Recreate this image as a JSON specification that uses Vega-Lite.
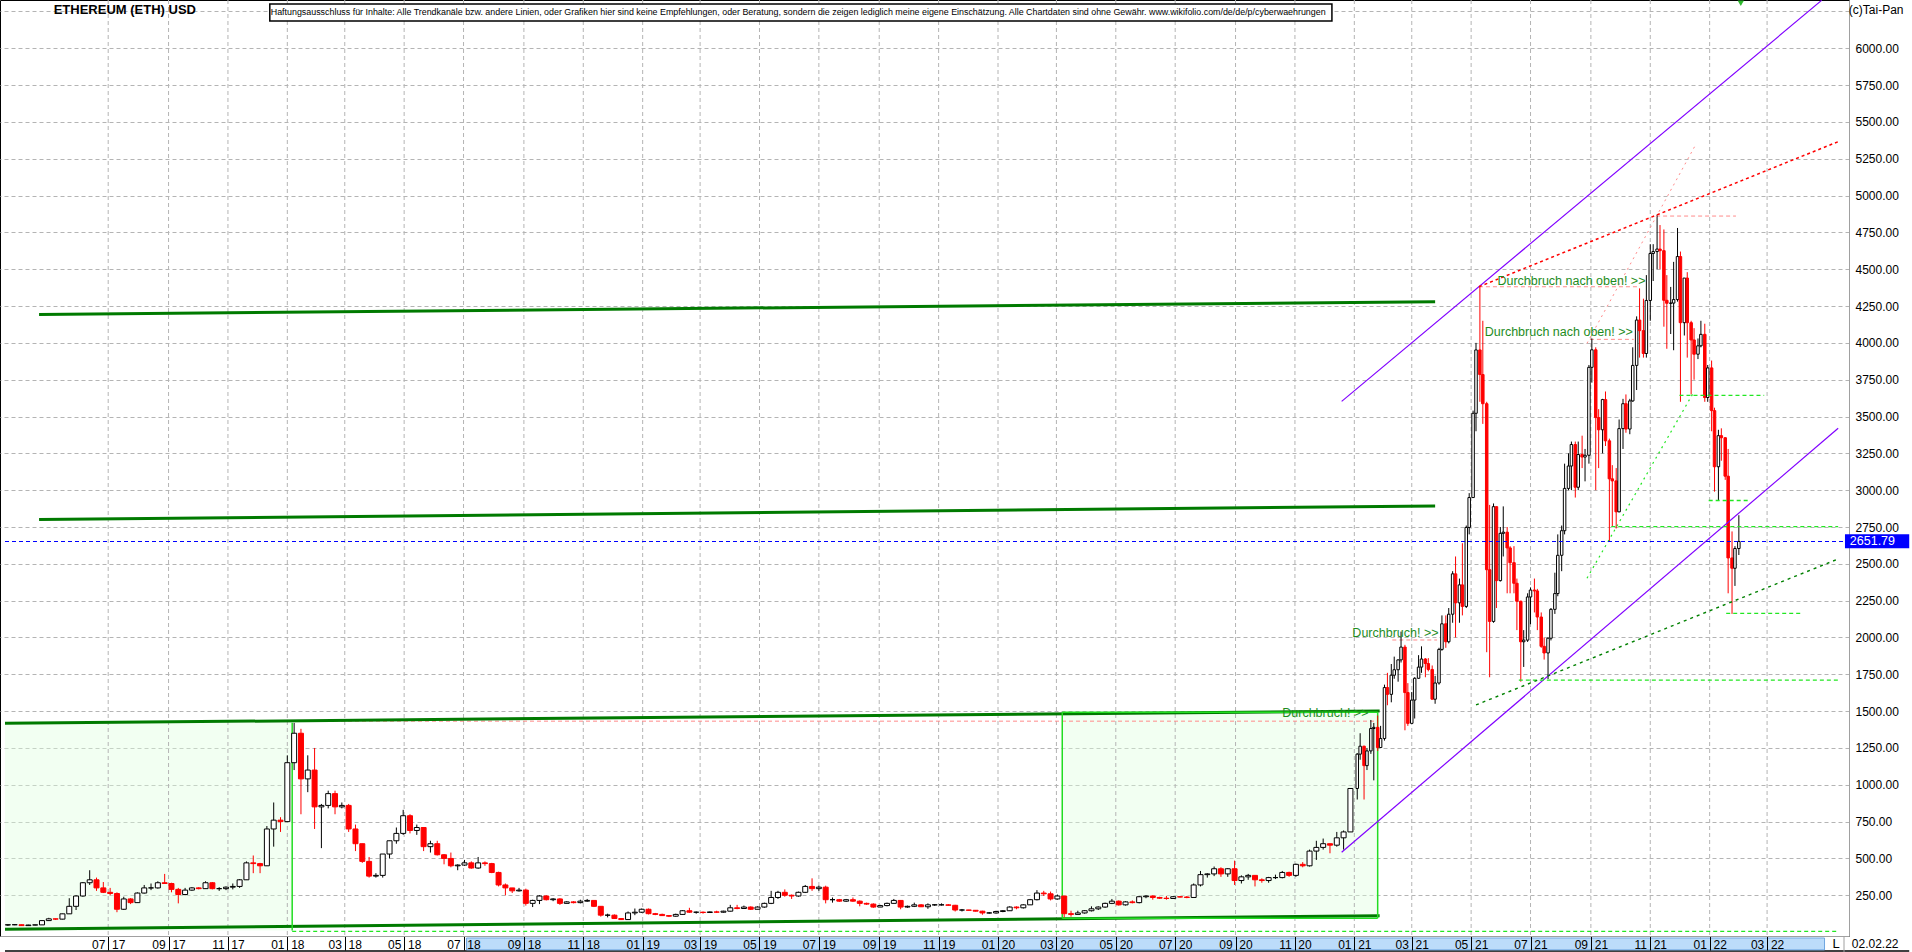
{
"$schema":"https://vega.github.io/schema/vega-lite/v6.json",
"width":1849,"height":936,
"autosize":{"type":"none"},
"padding":{"left":0,"top":0,"right":63,"bottom":16},
"background":"#ffffff",
"config":{"view":{"stroke":"#000000","strokeWidth":1},"font":"Liberation Sans"},
"resolve":{"axis":{"x":"independent","y":"independent"}},
"datasets":{
"boxes":[{"d":"2017-03-17","d2":"2018-01-06","v":11,"v2":1420},{"d":"2020-03-07","d2":"2021-01-25","v":94,"v2":1492}],
"months":[{"d":"2017-07-01"},{"d":"2017-09-01"},{"d":"2017-11-01"},{"d":"2018-01-01"},{"d":"2018-03-01"},{"d":"2018-05-01"},{"d":"2018-07-01"},{"d":"2018-09-01"},{"d":"2018-11-01"},{"d":"2019-01-01"},{"d":"2019-03-01"},{"d":"2019-05-01"},{"d":"2019-07-01"},{"d":"2019-09-01"},{"d":"2019-11-01"},{"d":"2020-01-01"},{"d":"2020-03-01"},{"d":"2020-05-01"},{"d":"2020-07-01"},{"d":"2020-09-01"},{"d":"2020-11-01"},{"d":"2021-01-01"},{"d":"2021-03-01"},{"d":"2021-05-01"},{"d":"2021-07-01"},{"d":"2021-09-01"},{"d":"2021-11-01"},{"d":"2022-01-01"},{"d":"2022-03-01"}],
"seg":[
{"g":"pk","d":"2021-05-09","d2":"2021-10-21","v":4381,"v2":4381},
{"g":"pk","d":"2021-08-31","d2":"2021-10-15","v":4024,"v2":4024},
{"g":"pk","d":"2021-11-07","d2":"2022-01-28","v":4861,"v2":4861},
{"g":"pk","d":"2021-02-09","d2":"2021-03-27","v":1983,"v2":1983},
{"g":"pk","d":"2018-01-13","d2":"2021-01-25","v":1432,"v2":1432},
{"g":"dg","d":"2017-04-21","d2":"2021-03-25","v":4192,"v2":4280},
{"g":"dg","d":"2017-04-21","d2":"2021-03-25","v":2801,"v2":2893},
{"g":"dg","d":"2017-03-17","d2":"2021-01-27","v":1417,"v2":1501},
{"g":"dg","d":"2017-03-17","d2":"2021-01-27","v":19,"v2":111},
{"g":"lg","d":"2018-01-06","d2":"2018-01-06","v":11,"v2":1422},
{"g":"lg","d":"2020-03-07","d2":"2020-03-07","v":94,"v2":1492},
{"g":"lg","d":"2021-01-25","d2":"2021-01-25","v":94,"v2":1492},
{"g":"lg","d":"2020-03-07","d2":"2021-01-25","v":1492,"v2":1492},
{"g":"lg","d":"2020-03-07","d2":"2021-01-25","v":94,"v2":94},
{"g":"pu","d":"2020-12-19","d2":"2022-04-26","v":3603,"v2":6325},
{"g":"pu","d":"2020-12-19","d2":"2022-05-13","v":542,"v2":3420},
{"g":"re","d":"2021-05-09","d2":"2022-05-13","v":4381,"v2":5366},
{"g":"ps","d":"2021-08-28","d2":"2021-12-18","v":3997,"v2":5350},
{"g":"gd","d":"2021-06-19","d2":"2022-05-13","v":1711,"v2":1711},
{"g":"gd","d":"2021-09-22","d2":"2022-05-13","v":2752,"v2":2752},
{"g":"gd","d":"2021-12-01","d2":"2022-02-26","v":3644,"v2":3644},
{"g":"gd","d":"2021-12-31","d2":"2022-02-10","v":2930,"v2":2930},
{"g":"gd","d":"2022-01-18","d2":"2022-04-07","v":2164,"v2":2164},
{"g":"gd","d":"2018-01-06","d2":"2022-05-13","v":5,"v2":5},
{"g":"gt","d":"2021-08-28","d2":"2021-12-15","v":2402,"v2":3658},
{"g":"dd","d":"2021-05-06","d2":"2022-05-13","v":1542,"v2":2533},
{"g":"bl","d":"2017-03-17","d2":"2022-05-19","v":2651.79,"v2":2651.79},
{"g":"bk","d":"2017-03-17","d2":"2022-07-25","v":-128,"v2":-128},
{"g":"gy","d":"2022-05-19","d2":"2022-05-19","v":-26.5,"v2":-135}
],
"boxes2":[
{"k":"db","d":"2017-12-14","d2":"2020-12-09","v":6300,"v2":6185},
{"k":"pb","d":"2022-05-20","d2":"2022-07-25","v":2606,"v2":2701},
{"k":"sb","d":"2018-07-04","d2":"2022-04-29","v":-40,"v2":-121}
],
"txt":[
{"k":"an","t":"Durchbruch nach oben! >>","d":"2021-05-28","v":4422},
{"k":"an","t":"Durchbruch nach oben! >>","d":"2021-05-15","v":4074},
{"k":"an","t":"Durchbruch! >>","d":"2020-12-30","v":2028},
{"k":"an","t":"Durchbruch! >>","d":"2020-10-19","v":1487},
{"k":"ti","t":"ETHEREUM (ETH) USD","d":"2017-05-06","v":6260},
{"k":"di","t":"Haftungsausschluss für Inhalte: Alle Trendkanäle bzw. andere Linien, oder Grafiken hier sind keine Empfehlungen, oder Beratung, sondern die zeigen lediglich meine eigene Einschätzung. Alle Chartdaten sind ohne Gewähr.  www.wikifolio.com/de/de/p/cyberwaehrungen","d":"2017-12-15","v":6243},
{"k":"sm","t":"(c)Tai-Pan","d":"2022-05-24","v":6260},
{"k":"sm","t":"02.02.22","d":"2022-05-27","v":-81},
{"k":"lc","t":"L","d":"2022-05-11","v":-81},
{"k":"pw","t":"2651.79","d":"2022-05-25","v":2652}
],
"tri":[{"d":"2022-02-02","v":6305}],
"eth":[
{"d":"2017-03-20","o":48,"h":53,"l":42,"c":50},
{"d":"2017-03-27","o":50,"h":53,"l":47,"c":50},
{"d":"2017-04-03","o":50,"h":51,"l":42,"c":44},
{"d":"2017-04-10","o":44,"h":50,"l":43,"c":48},
{"d":"2017-04-17","o":48,"h":50,"l":46,"c":49},
{"d":"2017-04-24","o":49,"h":80,"l":49,"c":78},
{"d":"2017-05-01","o":78,"h":97,"l":76,"c":90},
{"d":"2017-05-08","o":90,"h":92,"l":82,"c":88},
{"d":"2017-05-15","o":88,"h":125,"l":86,"c":124},
{"d":"2017-05-22","o":124,"h":230,"l":124,"c":175},
{"d":"2017-05-29","o":175,"h":250,"l":150,"c":245},
{"d":"2017-06-05","o":245,"h":340,"l":240,"c":335},
{"d":"2017-06-12","o":335,"h":420,"l":320,"c":355},
{"d":"2017-06-19","o":355,"h":370,"l":280,"c":300},
{"d":"2017-06-26","o":300,"h":340,"l":265,"c":270},
{"d":"2017-07-03","o":270,"h":300,"l":250,"c":262},
{"d":"2017-07-10","o":262,"h":270,"l":135,"c":155},
{"d":"2017-07-17","o":155,"h":240,"l":150,"c":225},
{"d":"2017-07-24","o":225,"h":230,"l":190,"c":200},
{"d":"2017-07-31","o":200,"h":270,"l":200,"c":265},
{"d":"2017-08-07","o":265,"h":320,"l":262,"c":300},
{"d":"2017-08-14","o":300,"h":330,"l":285,"c":300},
{"d":"2017-08-21","o":300,"h":345,"l":295,"c":335},
{"d":"2017-08-28","o":335,"h":395,"l":330,"c":330},
{"d":"2017-09-04","o":330,"h":335,"l":270,"c":290},
{"d":"2017-09-11","o":290,"h":300,"l":195,"c":255},
{"d":"2017-09-18","o":255,"h":300,"l":250,"c":285},
{"d":"2017-09-25","o":285,"h":305,"l":280,"c":300},
{"d":"2017-10-02","o":300,"h":305,"l":290,"c":295},
{"d":"2017-10-09","o":295,"h":345,"l":295,"c":335},
{"d":"2017-10-16","o":335,"h":340,"l":290,"c":295},
{"d":"2017-10-23","o":295,"h":305,"l":280,"c":295},
{"d":"2017-10-30","o":295,"h":310,"l":285,"c":305},
{"d":"2017-11-06","o":305,"h":330,"l":290,"c":310},
{"d":"2017-11-13","o":310,"h":360,"l":300,"c":355},
{"d":"2017-11-20","o":355,"h":480,"l":355,"c":470},
{"d":"2017-11-27","o":470,"h":520,"l":400,"c":465},
{"d":"2017-12-04","o":465,"h":470,"l":400,"c":450},
{"d":"2017-12-11","o":450,"h":720,"l":450,"c":700},
{"d":"2017-12-18","o":700,"h":880,"l":580,"c":760},
{"d":"2017-12-25","o":760,"h":780,"l":680,"c":750},
{"d":"2018-01-01","o":750,"h":1200,"l":750,"c":1150},
{"d":"2018-01-08","o":1150,"h":1420,"l":1100,"c":1350},
{"d":"2018-01-15","o":1350,"h":1380,"l":800,"c":1040},
{"d":"2018-01-22","o":1040,"h":1200,"l":950,"c":1100},
{"d":"2018-01-29","o":1100,"h":1250,"l":700,"c":850},
{"d":"2018-02-05","o":850,"h":870,"l":570,"c":860},
{"d":"2018-02-12","o":860,"h":960,"l":840,"c":940},
{"d":"2018-02-19","o":940,"h":960,"l":800,"c":850},
{"d":"2018-02-26","o":850,"h":880,"l":840,"c":860},
{"d":"2018-03-05","o":860,"h":870,"l":680,"c":700},
{"d":"2018-03-12","o":700,"h":730,"l":550,"c":600},
{"d":"2018-03-19","o":600,"h":600,"l":470,"c":480},
{"d":"2018-03-26","o":480,"h":510,"l":370,"c":380},
{"d":"2018-04-02","o":380,"h":400,"l":370,"c":385},
{"d":"2018-04-09","o":385,"h":530,"l":370,"c":530},
{"d":"2018-04-16","o":530,"h":620,"l":500,"c":620},
{"d":"2018-04-23","o":620,"h":710,"l":600,"c":670},
{"d":"2018-04-30","o":670,"h":830,"l":660,"c":790},
{"d":"2018-05-07","o":790,"h":800,"l":670,"c":690},
{"d":"2018-05-14","o":690,"h":730,"l":660,"c":710},
{"d":"2018-05-21","o":710,"h":710,"l":550,"c":580},
{"d":"2018-05-28","o":580,"h":620,"l":540,"c":600},
{"d":"2018-06-04","o":600,"h":620,"l":520,"c":525},
{"d":"2018-06-11","o":525,"h":530,"l":460,"c":500},
{"d":"2018-06-18","o":500,"h":540,"l":440,"c":450},
{"d":"2018-06-25","o":450,"h":460,"l":420,"c":455},
{"d":"2018-07-02","o":455,"h":490,"l":450,"c":470},
{"d":"2018-07-09","o":470,"h":480,"l":430,"c":435},
{"d":"2018-07-16","o":435,"h":510,"l":430,"c":470},
{"d":"2018-07-23","o":470,"h":480,"l":450,"c":465},
{"d":"2018-07-30","o":465,"h":470,"l":400,"c":405},
{"d":"2018-08-06","o":405,"h":410,"l":310,"c":320},
{"d":"2018-08-13","o":320,"h":330,"l":250,"c":300},
{"d":"2018-08-20","o":300,"h":300,"l":265,"c":280},
{"d":"2018-08-27","o":280,"h":300,"l":275,"c":285},
{"d":"2018-09-03","o":285,"h":295,"l":180,"c":195},
{"d":"2018-09-10","o":195,"h":220,"l":170,"c":215},
{"d":"2018-09-17","o":215,"h":250,"l":190,"c":245},
{"d":"2018-09-24","o":245,"h":250,"l":215,"c":220},
{"d":"2018-10-01","o":220,"h":230,"l":210,"c":225},
{"d":"2018-10-08","o":225,"h":230,"l":185,"c":195},
{"d":"2018-10-15","o":195,"h":210,"l":195,"c":205},
{"d":"2018-10-22","o":205,"h":210,"l":195,"c":200},
{"d":"2018-10-29","o":200,"h":220,"l":195,"c":210},
{"d":"2018-11-05","o":210,"h":225,"l":205,"c":215},
{"d":"2018-11-12","o":215,"h":215,"l":170,"c":175},
{"d":"2018-11-19","o":175,"h":175,"l":105,"c":115},
{"d":"2018-11-26","o":115,"h":125,"l":100,"c":115},
{"d":"2018-12-03","o":115,"h":120,"l":90,"c":92},
{"d":"2018-12-10","o":92,"h":95,"l":82,"c":85},
{"d":"2018-12-17","o":85,"h":140,"l":85,"c":130},
{"d":"2018-12-24","o":130,"h":160,"l":115,"c":135},
{"d":"2018-12-31","o":135,"h":160,"l":130,"c":155},
{"d":"2019-01-07","o":155,"h":160,"l":120,"c":125},
{"d":"2019-01-14","o":125,"h":130,"l":115,"c":120},
{"d":"2019-01-21","o":120,"h":125,"l":110,"c":112},
{"d":"2019-01-28","o":112,"h":115,"l":102,"c":108},
{"d":"2019-02-04","o":108,"h":125,"l":105,"c":120},
{"d":"2019-02-11","o":120,"h":150,"l":118,"c":145},
{"d":"2019-02-18","o":145,"h":165,"l":130,"c":135},
{"d":"2019-02-25","o":135,"h":140,"l":125,"c":135},
{"d":"2019-03-04","o":135,"h":140,"l":125,"c":133},
{"d":"2019-03-11","o":133,"h":140,"l":130,"c":137},
{"d":"2019-03-18","o":137,"h":145,"l":130,"c":135},
{"d":"2019-03-25","o":135,"h":145,"l":132,"c":142},
{"d":"2019-04-01","o":142,"h":185,"l":140,"c":165},
{"d":"2019-04-08","o":165,"h":185,"l":155,"c":160},
{"d":"2019-04-15","o":160,"h":180,"l":160,"c":170},
{"d":"2019-04-22","o":170,"h":175,"l":150,"c":155},
{"d":"2019-04-29","o":155,"h":175,"l":155,"c":170},
{"d":"2019-05-06","o":170,"h":200,"l":165,"c":195},
{"d":"2019-05-13","o":195,"h":280,"l":190,"c":235},
{"d":"2019-05-20","o":235,"h":280,"l":225,"c":270},
{"d":"2019-05-27","o":270,"h":290,"l":240,"c":250},
{"d":"2019-06-03","o":250,"h":255,"l":225,"c":245},
{"d":"2019-06-10","o":245,"h":275,"l":240,"c":270},
{"d":"2019-06-17","o":270,"h":320,"l":265,"c":310},
{"d":"2019-06-24","o":310,"h":365,"l":280,"c":295},
{"d":"2019-07-01","o":295,"h":315,"l":280,"c":305},
{"d":"2019-07-08","o":305,"h":315,"l":195,"c":220},
{"d":"2019-07-15","o":220,"h":235,"l":200,"c":220},
{"d":"2019-07-22","o":220,"h":225,"l":205,"c":210},
{"d":"2019-07-29","o":210,"h":225,"l":205,"c":220},
{"d":"2019-08-05","o":220,"h":235,"l":205,"c":210},
{"d":"2019-08-12","o":210,"h":215,"l":175,"c":195},
{"d":"2019-08-19","o":195,"h":200,"l":185,"c":190},
{"d":"2019-08-26","o":190,"h":195,"l":165,"c":170},
{"d":"2019-09-02","o":170,"h":185,"l":170,"c":180},
{"d":"2019-09-09","o":180,"h":200,"l":175,"c":195},
{"d":"2019-09-16","o":195,"h":225,"l":195,"c":215},
{"d":"2019-09-23","o":215,"h":215,"l":155,"c":170},
{"d":"2019-09-30","o":170,"h":180,"l":165,"c":175},
{"d":"2019-10-07","o":175,"h":200,"l":170,"c":185},
{"d":"2019-10-14","o":185,"h":190,"l":170,"c":172},
{"d":"2019-10-21","o":172,"h":195,"l":158,"c":185},
{"d":"2019-10-28","o":185,"h":190,"l":178,"c":185},
{"d":"2019-11-04","o":185,"h":195,"l":180,"c":185},
{"d":"2019-11-11","o":185,"h":190,"l":180,"c":182},
{"d":"2019-11-18","o":182,"h":185,"l":140,"c":150},
{"d":"2019-11-25","o":150,"h":157,"l":140,"c":150},
{"d":"2019-12-02","o":150,"h":151,"l":145,"c":148},
{"d":"2019-12-09","o":148,"h":150,"l":140,"c":142},
{"d":"2019-12-16","o":142,"h":145,"l":118,"c":130},
{"d":"2019-12-23","o":130,"h":135,"l":125,"c":130},
{"d":"2019-12-30","o":130,"h":145,"l":125,"c":140},
{"d":"2020-01-06","o":140,"h":150,"l":135,"c":145},
{"d":"2020-01-13","o":145,"h":175,"l":145,"c":170},
{"d":"2020-01-20","o":170,"h":175,"l":155,"c":165},
{"d":"2020-01-27","o":165,"h":190,"l":160,"c":185},
{"d":"2020-02-03","o":185,"h":225,"l":185,"c":220},
{"d":"2020-02-10","o":220,"h":285,"l":215,"c":265},
{"d":"2020-02-17","o":265,"h":280,"l":245,"c":260},
{"d":"2020-02-24","o":260,"h":275,"l":215,"c":225},
{"d":"2020-03-02","o":225,"h":255,"l":220,"c":245},
{"d":"2020-03-09","o":245,"h":245,"l":100,"c":125},
{"d":"2020-03-16","o":125,"h":145,"l":105,"c":120},
{"d":"2020-03-23","o":120,"h":145,"l":120,"c":130},
{"d":"2020-03-30","o":130,"h":150,"l":125,"c":145},
{"d":"2020-04-06","o":145,"h":175,"l":140,"c":158},
{"d":"2020-04-13","o":158,"h":175,"l":150,"c":170},
{"d":"2020-04-20","o":170,"h":200,"l":165,"c":195},
{"d":"2020-04-27","o":195,"h":225,"l":190,"c":210},
{"d":"2020-05-04","o":210,"h":215,"l":180,"c":185},
{"d":"2020-05-11","o":185,"h":210,"l":180,"c":205},
{"d":"2020-05-18","o":205,"h":215,"l":195,"c":200},
{"d":"2020-05-25","o":200,"h":245,"l":195,"c":240},
{"d":"2020-06-01","o":240,"h":250,"l":230,"c":245},
{"d":"2020-06-08","o":245,"h":250,"l":220,"c":235},
{"d":"2020-06-15","o":235,"h":240,"l":225,"c":230},
{"d":"2020-06-22","o":230,"h":245,"l":220,"c":228},
{"d":"2020-06-29","o":228,"h":245,"l":225,"c":240},
{"d":"2020-07-06","o":240,"h":245,"l":235,"c":238},
{"d":"2020-07-13","o":238,"h":245,"l":230,"c":235},
{"d":"2020-07-20","o":235,"h":330,"l":235,"c":320},
{"d":"2020-07-27","o":320,"h":415,"l":310,"c":390},
{"d":"2020-08-03","o":390,"h":400,"l":370,"c":395},
{"d":"2020-08-10","o":395,"h":445,"l":380,"c":430},
{"d":"2020-08-17","o":430,"h":440,"l":375,"c":395},
{"d":"2020-08-24","o":395,"h":435,"l":375,"c":430},
{"d":"2020-08-31","o":430,"h":485,"l":320,"c":350},
{"d":"2020-09-07","o":350,"h":385,"l":330,"c":375},
{"d":"2020-09-14","o":375,"h":395,"l":355,"c":385},
{"d":"2020-09-21","o":385,"h":385,"l":310,"c":355},
{"d":"2020-09-28","o":355,"h":365,"l":335,"c":350},
{"d":"2020-10-05","o":350,"h":375,"l":335,"c":370},
{"d":"2020-10-12","o":370,"h":390,"l":360,"c":370},
{"d":"2020-10-19","o":370,"h":415,"l":365,"c":405},
{"d":"2020-10-26","o":405,"h":410,"l":375,"c":385},
{"d":"2020-11-02","o":385,"h":465,"l":375,"c":460},
{"d":"2020-11-09","o":460,"h":475,"l":440,"c":450},
{"d":"2020-11-16","o":450,"h":560,"l":445,"c":550},
{"d":"2020-11-23","o":550,"h":620,"l":490,"c":575},
{"d":"2020-11-30","o":575,"h":635,"l":560,"c":600},
{"d":"2020-12-07","o":600,"h":600,"l":535,"c":590},
{"d":"2020-12-14","o":590,"h":680,"l":580,"c":640},
{"d":"2020-12-21","o":640,"h":690,"l":560,"c":680},
{"d":"2020-12-28","o":680,"h":780,"l":680,"c":975}
],
"eth2":[
{"d":"2021-01-04","o":975,"h":1215,"l":900,"c":1208},
{"d":"2021-01-07","o":1208,"h":1350,"l":1170,"c":1262},
{"d":"2021-01-11","o":1262,"h":1265,"l":900,"c":1130},
{"d":"2021-01-14","o":1130,"h":1250,"l":1100,"c":1230},
{"d":"2021-01-18","o":1230,"h":1440,"l":1210,"c":1382},
{"d":"2021-01-21","o":1382,"h":1420,"l":1030,"c":1390},
{"d":"2021-01-25","o":1390,"h":1470,"l":1230,"c":1253},
{"d":"2021-01-28","o":1253,"h":1400,"l":1250,"c":1314},
{"d":"2021-02-01","o":1314,"h":1680,"l":1300,"c":1660},
{"d":"2021-02-04","o":1660,"h":1760,"l":1540,"c":1614},
{"d":"2021-02-08","o":1614,"h":1820,"l":1560,"c":1744},
{"d":"2021-02-11","o":1744,"h":1870,"l":1720,"c":1781},
{"d":"2021-02-15","o":1781,"h":1850,"l":1700,"c":1848},
{"d":"2021-02-18","o":1848,"h":2040,"l":1830,"c":1935},
{"d":"2021-02-22","o":1935,"h":1950,"l":1370,"c":1626},
{"d":"2021-02-25","o":1626,"h":1690,"l":1400,"c":1417},
{"d":"2021-03-01","o":1417,"h":1630,"l":1420,"c":1575},
{"d":"2021-03-04","o":1575,"h":1730,"l":1450,"c":1723},
{"d":"2021-03-08","o":1723,"h":1880,"l":1720,"c":1799},
{"d":"2021-03-11","o":1799,"h":1940,"l":1760,"c":1854},
{"d":"2021-03-15","o":1854,"h":1860,"l":1730,"c":1823},
{"d":"2021-03-18","o":1823,"h":1860,"l":1770,"c":1783},
{"d":"2021-03-22","o":1783,"h":1810,"l":1580,"c":1581},
{"d":"2021-03-25","o":1581,"h":1740,"l":1550,"c":1691},
{"d":"2021-03-29","o":1691,"h":1930,"l":1680,"c":1919},
{"d":"2021-04-01","o":1919,"h":2150,"l":1910,"c":2093},
{"d":"2021-04-05","o":2093,"h":2150,"l":1930,"c":1971},
{"d":"2021-04-08","o":1971,"h":2200,"l":1960,"c":2158},
{"d":"2021-04-12","o":2158,"h":2450,"l":2100,"c":2432},
{"d":"2021-04-15","o":2432,"h":2550,"l":2000,"c":2235},
{"d":"2021-04-19","o":2235,"h":2400,"l":2100,"c":2357},
{"d":"2021-04-22","o":2357,"h":2640,"l":2150,"c":2211},
{"d":"2021-04-26","o":2211,"h":2760,"l":2200,"c":2747},
{"d":"2021-04-29","o":2747,"h":2980,"l":2700,"c":2950},
{"d":"2021-05-03","o":2950,"h":3540,"l":2950,"c":3522},
{"d":"2021-05-06","o":3522,"h":4000,"l":3400,"c":3952},
{"d":"2021-05-10","o":3952,"h":4380,"l":3600,"c":3785},
{"d":"2021-05-13","o":3785,"h":4150,"l":3450,"c":3587},
{"d":"2021-05-17","o":3587,"h":3600,"l":1900,"c":2460},
{"d":"2021-05-20","o":2460,"h":2900,"l":1730,"c":2109},
{"d":"2021-05-24","o":2109,"h":2910,"l":2100,"c":2888},
{"d":"2021-05-27","o":2888,"h":2890,"l":2200,"c":2386},
{"d":"2021-05-31","o":2386,"h":2750,"l":2380,"c":2707},
{"d":"2021-06-03","o":2707,"h":2890,"l":2550,"c":2715},
{"d":"2021-06-07","o":2715,"h":2750,"l":2300,"c":2608},
{"d":"2021-06-10","o":2608,"h":2620,"l":2300,"c":2508},
{"d":"2021-06-14","o":2508,"h":2620,"l":2300,"c":2368},
{"d":"2021-06-17","o":2368,"h":2400,"l":2050,"c":2246},
{"d":"2021-06-21","o":2246,"h":2250,"l":1700,"c":1971},
{"d":"2021-06-24","o":1971,"h":2050,"l":1800,"c":1982},
{"d":"2021-06-28","o":1982,"h":2300,"l":1970,"c":2275},
{"d":"2021-07-01","o":2275,"h":2340,"l":2090,"c":2322},
{"d":"2021-07-05","o":2322,"h":2400,"l":2170,"c":2316},
{"d":"2021-07-08","o":2316,"h":2330,"l":2050,"c":2139},
{"d":"2021-07-12","o":2139,"h":2170,"l":1930,"c":1940},
{"d":"2021-07-15","o":1940,"h":2000,"l":1850,"c":1895},
{"d":"2021-07-19","o":1895,"h":2000,"l":1718,"c":1995},
{"d":"2021-07-22","o":1995,"h":2200,"l":1980,"c":2191},
{"d":"2021-07-26","o":2191,"h":2440,"l":2160,"c":2298},
{"d":"2021-07-29","o":2298,"h":2700,"l":2280,"c":2558},
{"d":"2021-08-02","o":2558,"h":2760,"l":2450,"c":2725},
{"d":"2021-08-05","o":2725,"h":3180,"l":2700,"c":3012},
{"d":"2021-08-09","o":3012,"h":3250,"l":3000,"c":3164},
{"d":"2021-08-12","o":3164,"h":3330,"l":3000,"c":3310},
{"d":"2021-08-16","o":3310,"h":3330,"l":2950,"c":3020},
{"d":"2021-08-19","o":3020,"h":3330,"l":3000,"c":3242},
{"d":"2021-08-23","o":3242,"h":3370,"l":3150,"c":3225},
{"d":"2021-08-26","o":3225,"h":3280,"l":3060,"c":3237},
{"d":"2021-08-30","o":3237,"h":3850,"l":3180,"c":3834},
{"d":"2021-09-02","o":3834,"h":4030,"l":3730,"c":3953},
{"d":"2021-09-06","o":3953,"h":3970,"l":3000,"c":3493},
{"d":"2021-09-09","o":3493,"h":3550,"l":3150,"c":3410},
{"d":"2021-09-13","o":3410,"h":3620,"l":3250,"c":3615},
{"d":"2021-09-16","o":3615,"h":3670,"l":3300,"c":3335},
{"d":"2021-09-20","o":3335,"h":3350,"l":2650,"c":3077},
{"d":"2021-09-23","o":3077,"h":3170,"l":2750,"c":3063},
{"d":"2021-09-27","o":3063,"h":3150,"l":2740,"c":2853},
{"d":"2021-09-30","o":2853,"h":3480,"l":2850,"c":3418},
{"d":"2021-10-04","o":3418,"h":3620,"l":3280,"c":3587},
{"d":"2021-10-07","o":3587,"h":3650,"l":3390,"c":3415},
{"d":"2021-10-11","o":3415,"h":3620,"l":3380,"c":3606},
{"d":"2021-10-14","o":3606,"h":3970,"l":3600,"c":3847},
{"d":"2021-10-18","o":3847,"h":4180,"l":3680,"c":4155},
{"d":"2021-10-21","o":4155,"h":4370,"l":3900,"c":4083},
{"d":"2021-10-25","o":4083,"h":4300,"l":3900,"c":3928},
{"d":"2021-10-28","o":3928,"h":4460,"l":3900,"c":4288},
{"d":"2021-11-01","o":4288,"h":4670,"l":4150,"c":4607},
{"d":"2021-11-04","o":4607,"h":4670,"l":4420,"c":4620},
{"d":"2021-11-08","o":4620,"h":4870,"l":4500,"c":4637},
{"d":"2021-11-11","o":4637,"h":4800,"l":4500,"c":4626},
{"d":"2021-11-15","o":4626,"h":4770,"l":4110,"c":4289},
{"d":"2021-11-18","o":4289,"h":4460,"l":3960,"c":4269},
{"d":"2021-11-22","o":4269,"h":4380,"l":4060,"c":4270},
{"d":"2021-11-25","o":4270,"h":4550,"l":3950,"c":4294},
{"d":"2021-11-29","o":4294,"h":4780,"l":4280,"c":4586},
{"d":"2021-12-02","o":4586,"h":4620,"l":3600,"c":4137},
{"d":"2021-12-06","o":4137,"h":4440,"l":4050,"c":4440},
{"d":"2021-12-09","o":4440,"h":4480,"l":3900,"c":4137},
{"d":"2021-12-13","o":4137,"h":4150,"l":3650,"c":4020},
{"d":"2021-12-16","o":4020,"h":4100,"l":3750,"c":3923},
{"d":"2021-12-20","o":3923,"h":4030,"l":3890,"c":3980},
{"d":"2021-12-23","o":3980,"h":4150,"l":3970,"c":4058},
{"d":"2021-12-27","o":4058,"h":4130,"l":3600,"c":3629},
{"d":"2021-12-30","o":3629,"h":3850,"l":3600,"c":3830},
{"d":"2022-01-03","o":3830,"h":3880,"l":3400,"c":3540},
{"d":"2022-01-06","o":3540,"h":3560,"l":2990,"c":3159},
{"d":"2022-01-10","o":3159,"h":3410,"l":2930,"c":3370},
{"d":"2022-01-13","o":3370,"h":3420,"l":3200,"c":3356},
{"d":"2022-01-17","o":3356,"h":3360,"l":3070,"c":3095},
{"d":"2022-01-20","o":3095,"h":3280,"l":2300,"c":2540},
{"d":"2022-01-24","o":2540,"h":2720,"l":2160,"c":2470},
{"d":"2022-01-27","o":2470,"h":2620,"l":2350,"c":2604},
{"d":"2022-01-31","o":2604,"h":2830,"l":2560,"c":2652}
]
},
"layer":[
{"data":{"name":"boxes"},"mark":{"type":"rect","fill":"#dfffdf","opacity":0.4},
 "encoding":{
  "x":{"field":"d","type":"temporal","scale":{"domain":[{"year":2017,"month":3,"date":17,"utc":true},{"year":2022,"month":5,"date":19,"utc":true}]},
   "axis":{"orient":"bottom","title":null,"grid":false,"domain":true,"domainColor":"#a0a0a0","ticks":true,"tickColor":"#000000","tickSize":14,"tickWidth":1,
    "values":[{"year":2017,"month":7,"date":1,"utc":true},{"year":2017,"month":9,"date":1,"utc":true},{"year":2017,"month":11,"date":1,"utc":true},{"year":2018,"month":1,"date":1,"utc":true},{"year":2018,"month":3,"date":1,"utc":true},{"year":2018,"month":5,"date":1,"utc":true},{"year":2018,"month":7,"date":1,"utc":true},{"year":2018,"month":9,"date":1,"utc":true},{"year":2018,"month":11,"date":1,"utc":true},{"year":2019,"month":1,"date":1,"utc":true},{"year":2019,"month":3,"date":1,"utc":true},{"year":2019,"month":5,"date":1,"utc":true},{"year":2019,"month":7,"date":1,"utc":true},{"year":2019,"month":9,"date":1,"utc":true},{"year":2019,"month":11,"date":1,"utc":true},{"year":2020,"month":1,"date":1,"utc":true},{"year":2020,"month":3,"date":1,"utc":true},{"year":2020,"month":5,"date":1,"utc":true},{"year":2020,"month":7,"date":1,"utc":true},{"year":2020,"month":9,"date":1,"utc":true},{"year":2020,"month":11,"date":1,"utc":true},{"year":2021,"month":1,"date":1,"utc":true},{"year":2021,"month":3,"date":1,"utc":true},{"year":2021,"month":5,"date":1,"utc":true},{"year":2021,"month":7,"date":1,"utc":true},{"year":2021,"month":9,"date":1,"utc":true},{"year":2021,"month":11,"date":1,"utc":true},{"year":2022,"month":1,"date":1,"utc":true},{"year":2022,"month":3,"date":1,"utc":true}],
    "labelExpr":"utcFormat(datum.value, '%m') + '\u00a0\u00a0' + utcFormat(datum.value, '%y')",
    "labelFont":"Liberation Sans","labelFontSize":12,"labelColor":"#000000","labelPadding":-6,"labelBaseline":"middle","labelAlign":"center","labelOverlap":false,"labelBound":false,"labelFlush":false,"zindex":1}},
  "x2":{"field":"d2"},
  "y":{"field":"v","type":"quantitative","scale":{"domain":[-26.5,6327.7],"nice":false,"zero":false},
   "axis":{"orient":"right","title":null,"values":[250,500,750,1000,1250,1500,1750,2000,2250,2500,2750,3000,3250,3500,3750,4000,4250,4500,4750,5000,5250,5500,5750,6000,6250],
    "labelExpr":"datum.value > 6100 ? '' : format(datum.value, '.2f')","grid":true,"gridColor":"#b4b4b4","gridDash":[4,3],"gridWidth":1,"ticks":false,"domain":true,"domainColor":"#a0a0a0",
    "labelFont":"Liberation Sans","labelFontSize":12,"labelColor":"#000000","labelPadding":6,"labelBaseline":"middle","labelOverlap":false,"labelBound":false,"labelFlush":false,"zindex":0}},
  "y2":{"field":"v2"}}},
{"data":{"name":"months"},"mark":{"type":"rule","color":"#b4b4b4","strokeDash":[4,3],"strokeWidth":1},"encoding":{"x":{"field":"d","type":"temporal","axis":null}}},
{"data":{"name":"seg"},"transform":[{"filter":"datum.g=='pk'"}],"mark":{"type":"rule","color":"#ff8a8a","strokeDash":[4,3],"strokeWidth":1},"encoding":{"x":{"field":"d","type":"temporal","axis":null},"x2":{"field":"d2"},"y":{"field":"v","type":"quantitative","axis":null},"y2":{"field":"v2"}}},
{"data":{"name":"seg"},"transform":[{"filter":"datum.g=='dg'"}],"mark":{"type":"rule","color":"#007a00","strokeWidth":3},"encoding":{"x":{"field":"d","type":"temporal","axis":null},"x2":{"field":"d2"},"y":{"field":"v","type":"quantitative","axis":null},"y2":{"field":"v2"}}},
{"data":{"name":"seg"},"transform":[{"filter":"datum.g=='lg'"}],"mark":{"type":"rule","color":"#22dd22","strokeWidth":1.5},"encoding":{"x":{"field":"d","type":"temporal","axis":null},"x2":{"field":"d2"},"y":{"field":"v","type":"quantitative","axis":null},"y2":{"field":"v2"}}},
{"data":{"name":"eth"},"mark":{"type":"rule","strokeWidth":1},"encoding":{"x":{"field":"d","type":"temporal","axis":null},"y":{"field":"l","type":"quantitative","axis":null},"y2":{"field":"h"},"color":{"condition":{"test":"datum.c>=datum.o","value":"#000000"},"value":"#ff0000"}}},
{"data":{"name":"eth"},"mark":{"type":"bar","size":5,"strokeWidth":1},"encoding":{"x":{"field":"d","type":"temporal","axis":null},"y":{"field":"o","type":"quantitative","axis":null},"y2":{"field":"c"},"fill":{"condition":{"test":"datum.c>=datum.o","value":"#ffffff"},"value":"#ff0000"},"stroke":{"condition":{"test":"datum.c>=datum.o","value":"#000000"},"value":"#ff0000"}}},
{"data":{"name":"eth2"},"mark":{"type":"rule","strokeWidth":1},"encoding":{"x":{"field":"d","type":"temporal","axis":null},"y":{"field":"l","type":"quantitative","axis":null},"y2":{"field":"h"},"color":{"condition":{"test":"datum.c>=datum.o","value":"#000000"},"value":"#ff0000"}}},
{"data":{"name":"eth2"},"mark":{"type":"bar","size":2.5,"strokeWidth":1},"encoding":{"x":{"field":"d","type":"temporal","axis":null},"y":{"field":"o","type":"quantitative","axis":null},"y2":{"field":"c"},"fill":{"condition":{"test":"datum.c>=datum.o","value":"#ffffff"},"value":"#ff0000"},"stroke":{"condition":{"test":"datum.c>=datum.o","value":"#000000"},"value":"#ff0000"}}},
{"data":{"name":"seg"},"transform":[{"filter":"datum.g=='pu'"}],"mark":{"type":"rule","color":"#8000ff","strokeWidth":1.2},"encoding":{"x":{"field":"d","type":"temporal","axis":null},"x2":{"field":"d2"},"y":{"field":"v","type":"quantitative","axis":null},"y2":{"field":"v2"}}},
{"data":{"name":"seg"},"transform":[{"filter":"datum.g=='re'"}],"mark":{"type":"rule","color":"#ff0000","strokeDash":[3,3],"strokeWidth":1.5},"encoding":{"x":{"field":"d","type":"temporal","axis":null},"x2":{"field":"d2"},"y":{"field":"v","type":"quantitative","axis":null},"y2":{"field":"v2"}}},
{"data":{"name":"seg"},"transform":[{"filter":"datum.g=='ps'"}],"mark":{"type":"rule","color":"#ff8a8a","strokeDash":[2,4],"strokeWidth":1},"encoding":{"x":{"field":"d","type":"temporal","axis":null},"x2":{"field":"d2"},"y":{"field":"v","type":"quantitative","axis":null},"y2":{"field":"v2"}}},
{"data":{"name":"seg"},"transform":[{"filter":"datum.g=='gd'"}],"mark":{"type":"rule","color":"#22e622","strokeDash":[4,3],"strokeWidth":1.3},"encoding":{"x":{"field":"d","type":"temporal","axis":null},"x2":{"field":"d2"},"y":{"field":"v","type":"quantitative","axis":null},"y2":{"field":"v2"}}},
{"data":{"name":"seg"},"transform":[{"filter":"datum.g=='gt'"}],"mark":{"type":"rule","color":"#22e622","strokeDash":[2,4],"strokeWidth":1.2},"encoding":{"x":{"field":"d","type":"temporal","axis":null},"x2":{"field":"d2"},"y":{"field":"v","type":"quantitative","axis":null},"y2":{"field":"v2"}}},
{"data":{"name":"seg"},"transform":[{"filter":"datum.g=='dd'"}],"mark":{"type":"rule","color":"#008000","strokeDash":[3,4],"strokeWidth":1.4},"encoding":{"x":{"field":"d","type":"temporal","axis":null},"x2":{"field":"d2"},"y":{"field":"v","type":"quantitative","axis":null},"y2":{"field":"v2"}}},
{"data":{"name":"seg"},"transform":[{"filter":"datum.g=='bl'"}],"mark":{"type":"rule","color":"#0000ff","strokeDash":[4,3],"strokeWidth":1.2},"encoding":{"x":{"field":"d","type":"temporal","axis":null},"x2":{"field":"d2"},"y":{"field":"v","type":"quantitative","axis":null},"y2":{"field":"v2"}}},
{"data":{"name":"seg"},"transform":[{"filter":"datum.g=='bk'"}],"mark":{"type":"rule","color":"#000000","strokeWidth":1.5},"encoding":{"x":{"field":"d","type":"temporal","axis":null},"x2":{"field":"d2"},"y":{"field":"v","type":"quantitative","axis":null},"y2":{"field":"v2"}}},
{"data":{"name":"seg"},"transform":[{"filter":"datum.g=='gy'"}],"mark":{"type":"rule","color":"#a0a0a0","strokeWidth":1},"encoding":{"x":{"field":"d","type":"temporal","axis":null},"x2":{"field":"d2"},"y":{"field":"v","type":"quantitative","axis":null},"y2":{"field":"v2"}}},
{"data":{"name":"boxes2"},"transform":[{"filter":"datum.k=='db'"}],"mark":{"type":"rect","fill":"#ffffff","stroke":"#000000","strokeWidth":1.5},"encoding":{"x":{"field":"d","type":"temporal","axis":null},"x2":{"field":"d2"},"y":{"field":"v","type":"quantitative","axis":null},"y2":{"field":"v2"}}},
{"data":{"name":"boxes2"},"transform":[{"filter":"datum.k=='pb'"}],"mark":{"type":"rect","fill":"#0000ff"},"encoding":{"x":{"field":"d","type":"temporal","axis":null},"x2":{"field":"d2"},"y":{"field":"v","type":"quantitative","axis":null},"y2":{"field":"v2"}}},
{"data":{"name":"boxes2"},"transform":[{"filter":"datum.k=='sb'"}],"mark":{"type":"rect","fill":"#bcdcfa","stroke":"#6fa6e0","strokeWidth":1},"encoding":{"x":{"field":"d","type":"temporal","axis":null},"x2":{"field":"d2"},"y":{"field":"v","type":"quantitative","axis":null},"y2":{"field":"v2"}}},
{"data":{"name":"tri"},"mark":{"type":"point","shape":"triangle-down","filled":true,"size":40,"color":"#2db82d","opacity":1},"encoding":{"x":{"field":"d","type":"temporal","axis":null},"y":{"field":"v","type":"quantitative","axis":null}}},
{"data":{"name":"txt"},"transform":[{"filter":"datum.k=='an'"}],"mark":{"type":"text","align":"left","baseline":"middle","font":"Liberation Sans","fontSize":12.5,"color":"#1e8c1e"},"encoding":{"x":{"field":"d","type":"temporal","axis":null},"y":{"field":"v","type":"quantitative","axis":null},"text":{"field":"t"}}},
{"data":{"name":"txt"},"transform":[{"filter":"datum.k=='ti'"}],"mark":{"type":"text","align":"left","baseline":"middle","font":"Liberation Sans","fontSize":13,"fontWeight":"bold","color":"#000000"},"encoding":{"x":{"field":"d","type":"temporal","axis":null},"y":{"field":"v","type":"quantitative","axis":null},"text":{"field":"t"}}},
{"data":{"name":"txt"},"transform":[{"filter":"datum.k=='di'"}],"mark":{"type":"text","align":"left","baseline":"middle","font":"Liberation Sans","fontSize":8.9,"color":"#000000"},"encoding":{"x":{"field":"d","type":"temporal","axis":null},"y":{"field":"v","type":"quantitative","axis":null},"text":{"field":"t"}}},
{"data":{"name":"txt"},"transform":[{"filter":"datum.k=='sm'"}],"mark":{"type":"text","align":"left","baseline":"middle","font":"Liberation Sans","fontSize":12,"color":"#000000"},"encoding":{"x":{"field":"d","type":"temporal","axis":null},"y":{"field":"v","type":"quantitative","axis":null},"text":{"field":"t"}}},
{"data":{"name":"txt"},"transform":[{"filter":"datum.k=='lc'"}],"mark":{"type":"text","align":"center","baseline":"middle","font":"Liberation Sans","fontSize":13,"color":"#000000"},"encoding":{"x":{"field":"d","type":"temporal","axis":null},"y":{"field":"v","type":"quantitative","axis":null},"text":{"field":"t"}}},
{"data":{"name":"txt"},"transform":[{"filter":"datum.k=='pw'"}],"mark":{"type":"text","align":"left","baseline":"middle","font":"Liberation Sans","fontSize":12.5,"color":"#ffffff"},"encoding":{"x":{"field":"d","type":"temporal","axis":null},"y":{"field":"v","type":"quantitative","axis":null},"text":{"field":"t"}}}
]
}
